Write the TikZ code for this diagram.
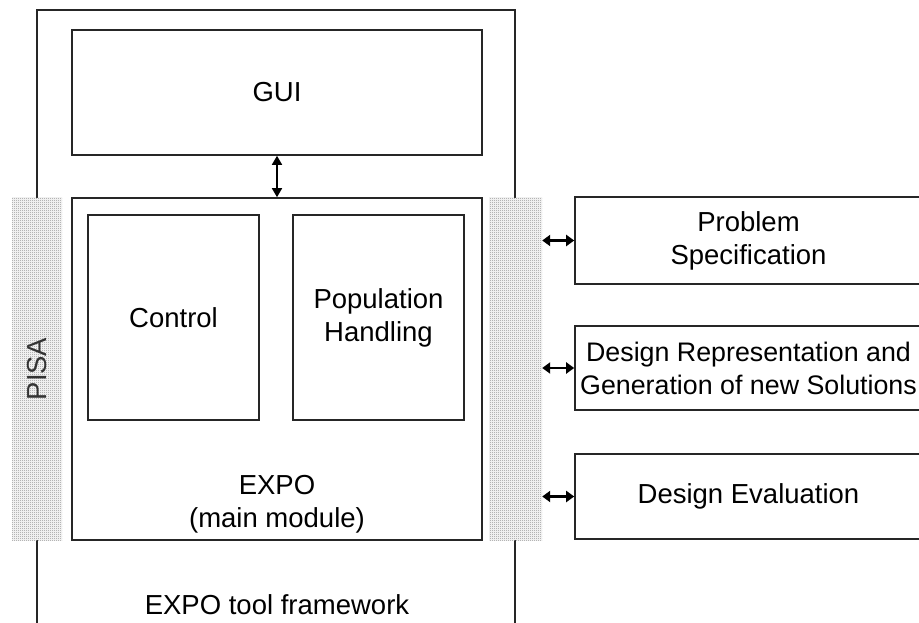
\documentclass[tikz,border=0pt]{standalone}
\usepackage{fontspec}
\setmainfont{Liberation Sans}
\usetikzlibrary{patterns,arrows.meta}
\pgfdeclarepatternformonly{checker}{\pgfpointorigin}{\pgfpoint{2pt}{2pt}}{\pgfpoint{2pt}{2pt}}{%
  \pgfpathrectangle{\pgfpointorigin}{\pgfpoint{1pt}{1pt}}%
  \pgfpathrectangle{\pgfpoint{1pt}{1pt}}{\pgfpoint{1pt}{1pt}}%
  \pgfusepath{fill}}
\begin{document}
\begin{tikzpicture}[x=1pt,y=-1pt,
  txt/.style={font=\fontsize{27.5}{33}\selectfont, align=center, inner sep=0},
  box/.style={draw=black!85, line width=1.6pt, txt, minimum width=#1},
  strip/.style={fill=white, postaction={pattern=checker, pattern color=gray!90}, inner sep=0, minimum width=#1, minimum height=342pt},
  biarrow/.style={{Triangle[length=8pt,width=11pt]}-{Triangle[length=8pt,width=11pt]}, line width=2.2pt},
  vbiarrow/.style={{Triangle[length=9pt,width=10pt]}-{Triangle[length=9pt,width=10pt]}, line width=1.6pt}]
\useasboundingbox (0,0) rectangle (919,623);
\clip (0,0) rectangle (919,623);
% outer frame
\coordinate (fbl) at (37,640);
\coordinate (ftl) at (37,10);
\coordinate (ftr) at (515,10);
\coordinate (fbr) at (515,640);
\draw[line width=1.6pt, draw=black!85] (fbl) -- (ftl) -- (ftr) -- (fbr);
\node[txt] (frame) at (277,605) {EXPO tool framework};
% GUI and main module
\node[box=410pt, minimum height=125pt] (gui) at (277,92.5) {GUI};
\node[box=410pt, minimum height=342pt] (expo) at (277,369) {};
\node[txt] (expolbl) at (277,504) {EXPO\\(main module)};
\node[box=171pt, minimum height=205pt] (control) at (173.5,317.5) {Control};
\node[box=171pt, minimum height=205pt] (pop) at (378.5,317.5) {Population\\Handling};
% PISA strips
\node[strip=50pt] (lstrip) at (37,369) {};
\node[txt, rotate=90, text=black!80] (pisa) at (37,369) {PISA};
\node[strip=53pt] (rstrip) at (515.5,369) {};
% right boxes
\node[box=347pt, minimum height=87pt] (prob) at (748.5,240.5) {Problem\\Specification};
\node[box=347pt, minimum height=84pt, font=\fontsize{26.8}{33}\selectfont] (rep) at (748.5,368) {Design Representation and\\Generation of new Solutions};
\node[box=347pt, minimum height=85pt] (eval) at (748.5,496.5) {Design Evaluation};
% connectors
\draw[vbiarrow] (gui.south) -- (expo.north);
\draw[biarrow] (rstrip.east |- prob.west) -- (prob.west);
\draw[biarrow] (rstrip.east |- rep.west) -- (rep.west);
\draw[biarrow] (rstrip.east |- eval.west) -- (eval.west);
\end{tikzpicture}
\end{document}
